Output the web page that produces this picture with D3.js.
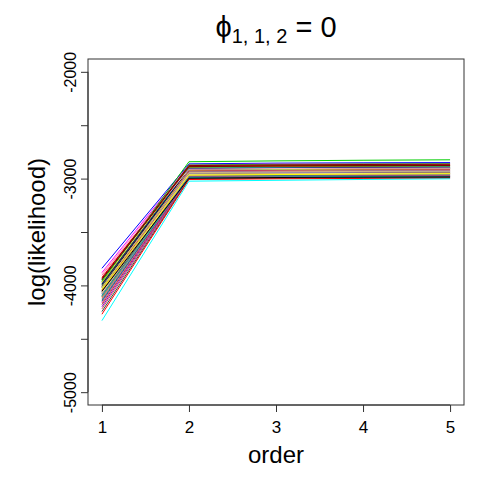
<!DOCTYPE html>
<meta charset="utf-8">
<style>
    body { margin: 0; background: #fff; }
    svg text { font-family: "Liberation Sans", Arial, sans-serif; fill: #000; }
    .lines path { fill: none; stroke-width: 1; }
</style>
<svg width="480" height="480"></svg>

<script src="https://d3js.org/d3.v7.min.js"></script>
<script>
    // x categories (model order)
    var orders = [1, 2, 3, 4, 5];

    // log-likelihood per run, one row per line
    var runs = [
        [-3840, -2862, -2855, -2852, -2850],
        [-3880, -2870, -2864, -2860, -2858],
        [-3905, -2880, -2874, -2870, -2868],
        [-3925, -2885, -2880, -2877, -2875],
        [-3950, -2890, -2884, -2880, -2878],
        [-3965, -2842, -2834, -2828, -2824],
        [-3975, -2895, -2890, -2887, -2885],
        [-3985, -2900, -2894, -2890, -2888],
        [-3995, -2905, -2898, -2895, -2893],
        [-4000, -2910, -2905, -2900, -2898],
        [-4010, -2915, -2910, -2906, -2904],
        [-4020, -2918, -2912, -2909, -2906],
        [-4025, -2922, -2916, -2912, -2910],
        [-4035, -2926, -2920, -2916, -2914],
        [-4045, -2930, -2924, -2920, -2918],
        [-4050, -2934, -2927, -2923, -2921],
        [-4060, -2938, -2932, -2928, -2926],
        [-4065, -2942, -2936, -2932, -2929],
        [-4075, -2946, -2940, -2936, -2934],
        [-4080, -2950, -2944, -2940, -2938],
        [-4090, -2954, -2948, -2944, -2942],
        [-4095, -2958, -2952, -2948, -2946],
        [-4105, -2962, -2955, -2951, -2949],
        [-4110, -2966, -2960, -2956, -2953],
        [-4120, -2970, -2963, -2959, -2957],
        [-4130, -2974, -2968, -2964, -2961],
        [-4140, -2978, -2972, -2968, -2966],
        [-4150, -2982, -2976, -2972, -2969],
        [-4165, -2986, -2980, -2976, -2974],
        [-4180, -2990, -2984, -2980, -2978],
        [-4200, -2994, -2988, -2984, -2982],
        [-4220, -2998, -2992, -2988, -2986],
        [-4245, -3004, -2997, -2993, -2991],
        [-4270, -3008, -3002, -2998, -2996],
        [-3990, -2908, -2901, -2897, -2895],
        [-4070, -2960, -2955, -2952, -2950],
        [-3890, -2912, -2906, -2903, -2901],
        [-3960, -2872, -2866, -2862, -2860],
        [-4015, -2944, -2937, -2933, -2930],
        [-3935, -2878, -2872, -2868, -2866],
        [-4100, -2990, -2984, -2981, -2979],
        [-4040, -2968, -2962, -2958, -2955],
        [-4055, -2996, -2990, -2986, -2984],
        [-3945, -2888, -2882, -2879, -2877],
        [-4330, -3024, -3016, -3008, -3002]
    ];

    var lineColors = [
        "blue", "magenta", "hotpink", "red", "darkgreen", "#00cd00", "orange", "forestgreen",
        "turquoise", "olivedrab", "black", "brown", "mediumaquamarine", "gold", "purple", "tomato",
        "cadetblue", "mediumvioletred", "darkkhaki", "steelblue", "orchid", "seagreen", "firebrick", "slategray",
        "darkorange", "mediumpurple", "#666666", "darkcyan", "deeppink", "sienna", "darkviolet", "indianred",
        "darkslategray", "red", "navy", "khaki", "lightpink", "limegreen", "tan", "darkred",
        "lightseagreen", "yellow", "black", "maroon", "cyan"
    ];

    var yTicks = [-5000, -4500, -4000, -3500, -3000, -2500, -2000];
    var yLabelled = [-5000, -4000, -3000, -2000];

    (function() {
        var svg = d3.select("svg"),
            pl = 88, pr = 464, pt = 59, pb = 405;

        // R-style 4% padding around the ranges
        var x = d3.scaleLinear().domain([0.84, 5.16]).range([pl, pr]);
        var y = d3.scaleLinear().domain([-5120, -1880]).range([pb, pt]);

        var line = d3.line()
            .x(function(d, i) { return x(orders[i]); })
            .y(function(d) { return y(d); });

        svg.append("g").attr("class", "lines")
            .selectAll("path")
            .data(runs)
            .enter().append("path")
            .attr("d", line)
            .attr("stroke", function(d, i) { return lineColors[i % lineColors.length]; });

        svg.append("rect")
            .attr("x", pl).attr("y", pt)
            .attr("width", pr - pl).attr("height", pb - pt)
            .attr("fill", "none").attr("stroke", "#333").attr("stroke-width", 1);

        // x axis
        var xAxis = svg.append("g").attr("transform", "translate(0," + pb + ")")
            .call(d3.axisBottom(x).tickValues(orders).tickSize(7).tickPadding(9).tickFormat(d3.format("d")));
        xAxis.select(".domain").attr("d", "M" + x(1) + ",0H" + x(5)).attr("stroke", "#333");
        xAxis.selectAll(".tick line").attr("stroke", "#333");
        xAxis.selectAll("text").style("font-size", "17px");

        // y axis
        var yAxis = svg.append("g").attr("transform", "translate(" + pl + ",0)")
            .call(d3.axisLeft(y).tickValues(yTicks).tickSize(7)
                .tickFormat(function(d) { return yLabelled.indexOf(d) >= 0 ? d : ""; }));
        yAxis.select(".domain").attr("d", "M0," + y(-5000) + "V" + y(-2000)).attr("stroke", "#333");
        yAxis.selectAll(".tick line").attr("stroke", "#333");
        yAxis.selectAll("text")
            .attr("x", null).attr("dy", null)
            .attr("transform", "translate(-12,0) rotate(-90)")
            .attr("text-anchor", "middle")
            .style("font-size", "16px");

        svg.append("text")
            .attr("x", (pl + pr) / 2).attr("y", 463)
            .attr("text-anchor", "middle")
            .style("font-size", "24px")
            .text("order");

        svg.append("text")
            .attr("transform", "translate(45," + (pt + pb) / 2 + ") rotate(-90)")
            .attr("text-anchor", "middle")
            .style("font-size", "24px")
            .text("log(likelihood)");

        var title = svg.append("text")
            .attr("x", (pl + pr) / 2).attr("y", 37)
            .attr("text-anchor", "middle")
            .style("font-size", "29px");
        title.append("tspan").text("\u03d5");
        title.append("tspan").attr("dy", 6).style("font-size", "20px").text("1, 1, 2");
        title.append("tspan").attr("dy", -6).text(" = 0");
    })();
</script>
